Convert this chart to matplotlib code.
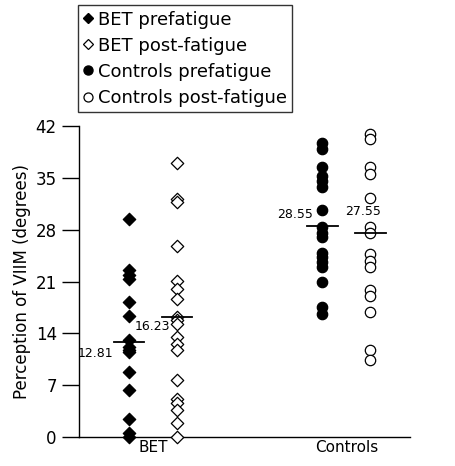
import matplotlib
matplotlib.use("Agg")
import matplotlib.pyplot as plt
from matplotlib.lines import Line2D

groups = ["BET", "Controls"]
bet_pre = [29.4, 22.5, 21.9, 21.4, 18.2, 16.3, 13.1, 12.2, 11.8, 11.5, 8.8, 6.4, 2.4, 0.5, 0.0]
bet_post = [37.0, 32.2, 31.7, 25.8, 21.1, 20.0, 18.7, 16.2, 15.8, 15.3, 13.5, 12.6,
            11.7, 7.7, 5.2, 4.6, 3.6, 1.9, 0.0]
ctl_pre = [39.7, 38.9, 36.4, 35.3, 34.6, 33.7, 30.6, 28.3, 27.6, 27.0, 24.9, 24.3,
           23.6, 22.9, 20.9, 17.5, 16.6]
ctl_post = [40.9, 40.3, 36.4, 35.5, 32.3, 28.3, 27.6, 24.7, 23.8, 22.9, 19.8, 19.1,
            16.9, 11.7, 10.4]
means = [12.81, 16.23, 28.55, 27.55]
mean_labels = ["12.81", "16.23", "28.55", "27.55"]
series_names = ["BET prefatigue", "BET post-fatigue", "Controls prefatigue", "Controls post-fatigue"]
yticks = [0, 7, 14, 21, 28, 35, 42]

fig = plt.figure(figsize=(4.56, 4.66), dpi=100)
ax = fig.add_axes([0.1732, 0.0622, 0.726, 0.6674])

offs = 0.124
positions = [1 - offs, 1 + offs, 2 - offs, 2 + offs]
data = [bet_pre, bet_post, ctl_pre, ctl_post]
markers = ["D", "D", "o", "o"]
faces = ["black", "white", "black", "white"]
sizes = [40, 40, 56, 56]

for pos, vals, m, fc, s in zip(positions, data, markers, faces, sizes):
    ax.scatter([pos] * len(vals), vals, marker=m, s=s, facecolor=fc,
               edgecolor="black", linewidth=0.9, clip_on=False, zorder=3)

# mean lines and labels (label placement: x offset, y offset, vertical alignment)
half = 0.08
label_place = [(-0.08, -0.6, "top"), (-0.035, -0.4, "top"),
               (-0.05, 0.6, "bottom"), (0.055, 2.0, "bottom")]
for pos, mval, lab, (dx, dy, va) in zip(positions, means, mean_labels, label_place):
    ax.plot([pos - half, pos + half], [mval, mval], color="black", lw=1.3, zorder=4,
            clip_on=False)
    ax.text(pos + dx, mval + dy, lab, ha="right", va=va, fontsize=9, zorder=5)

ax.set_xlim(0.617, 2.33)
ax.set_ylim(0, 42)
ax.set_yticks(yticks)
ax.set_yticklabels([str(t) for t in yticks], fontsize=12)
ax.set_xticks([1, 2])
ax.set_xticklabels(groups, fontsize=11)
ax.tick_params(axis="x", length=0, pad=2)
ax.tick_params(axis="y", length=12, width=1, pad=4, direction="out")
ax.spines["top"].set_visible(False)
ax.spines["right"].set_visible(False)
ax.spines["left"].set_linewidth(1)
ax.spines["bottom"].set_linewidth(1)
ax.set_ylabel("Perception of VIIM (degrees)", fontsize=12, labelpad=3)

handles = [
    Line2D([], [], marker="D", ls="", markersize=5.5, mfc="black", mec="black"),
    Line2D([], [], marker="D", ls="", markersize=5.5, mfc="white", mec="black", mew=0.9),
    Line2D([], [], marker="o", ls="", markersize=6.5, mfc="black", mec="black"),
    Line2D([], [], marker="o", ls="", markersize=6.5, mfc="white", mec="black", mew=0.9),
]
leg = fig.legend(handles, series_names, loc="upper left", bbox_to_anchor=(0.171, 0.989),
                 fontsize=13, frameon=True, fancybox=False, handlelength=0.5,
                 handletextpad=0.3, borderpad=0.3, labelspacing=0.45, borderaxespad=0)
leg.get_frame().set_edgecolor("black")
leg.get_frame().set_linewidth(1)

fig.savefig("out.png", dpi=100)
